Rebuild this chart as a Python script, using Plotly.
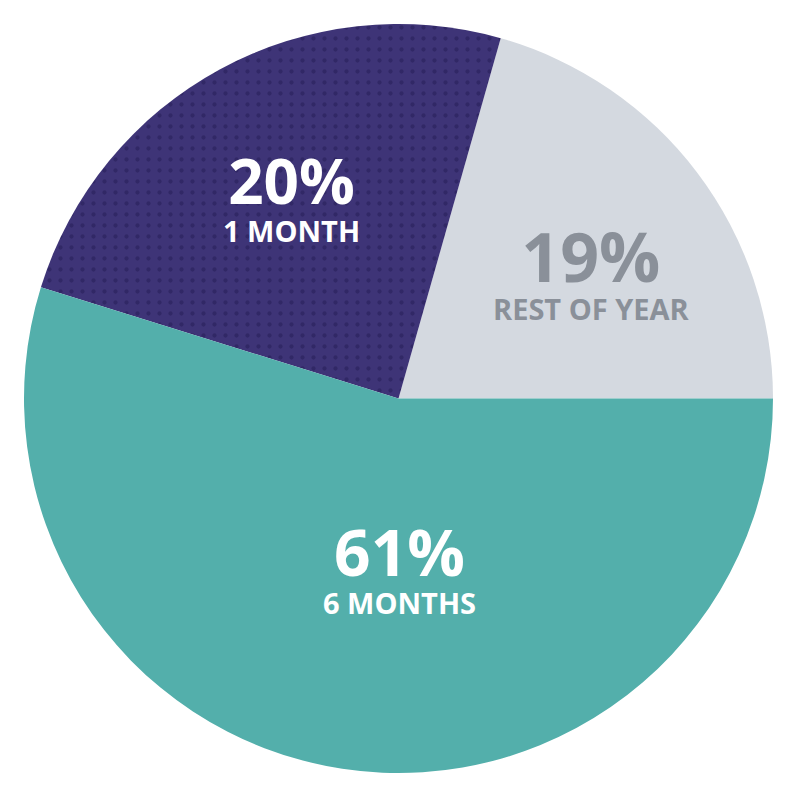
import plotly.graph_objects as go

categories = ["REST OF YEAR", "1 MONTH", "6 MONTHS"]
slice_values = [20.6, 24.6, 54.8]          # arc shares as drawn in the picture
pct_labels = ["19%", "20%", "61%"]          # printed percentages
colors = ["#D4D9E0", "#3E3477", "#53AFAB"]
text_colors = ["#8A9099", "#FFFFFF", "#FFFFFF"]

W = H = 800

# first slice starts at 3 o'clock, going counterclockwise
start_rot = 90 - 360 * slice_values[0] / sum(slice_values)

fig = go.Figure(
    go.Pie(
        labels=categories,
        values=slice_values,
        sort=False,
        direction="counterclockwise",
        rotation=start_rot,
        textinfo="none",
        hoverinfo="skip",
        showlegend=False,
        marker=dict(
            colors=colors,
            line=dict(width=0),
            pattern=dict(
                shape=["", ".", ""],
                fgcolor="#241B55",
                bgcolor=colors,
                size=11,
                solidity=0.12,
                fillmode="overlay",
            ),
        ),
        domain=dict(x=[24 / W, 773 / W], y=[27 / H, 776 / H]),
    )
)

# label centres (pixels) for each slice
label_pos = [(591, 268), (291, 194), (399, 565)]
big_sizes = [68, 62, 64]

annotations = []
for i, (x, y) in enumerate(label_pos):
    annotations.append(dict(
        x=x / W, y=1 - y / H, xref="paper", yref="paper",
        text=(f"<b><span style='font-size:{big_sizes[i]}px'>{pct_labels[i]}</span><br>"
              f"{categories[i]}</b>"),
        showarrow=False,
        xanchor="center", yanchor="middle", align="center",
        font=dict(family="Open Sans", size=29, color=text_colors[i]),
    ))

fig.update_layout(
    width=W, height=H,
    margin=dict(l=0, r=0, t=0, b=0),
    paper_bgcolor="white",
    plot_bgcolor="white",
    annotations=annotations,
)

fig.write_html("out.html")
